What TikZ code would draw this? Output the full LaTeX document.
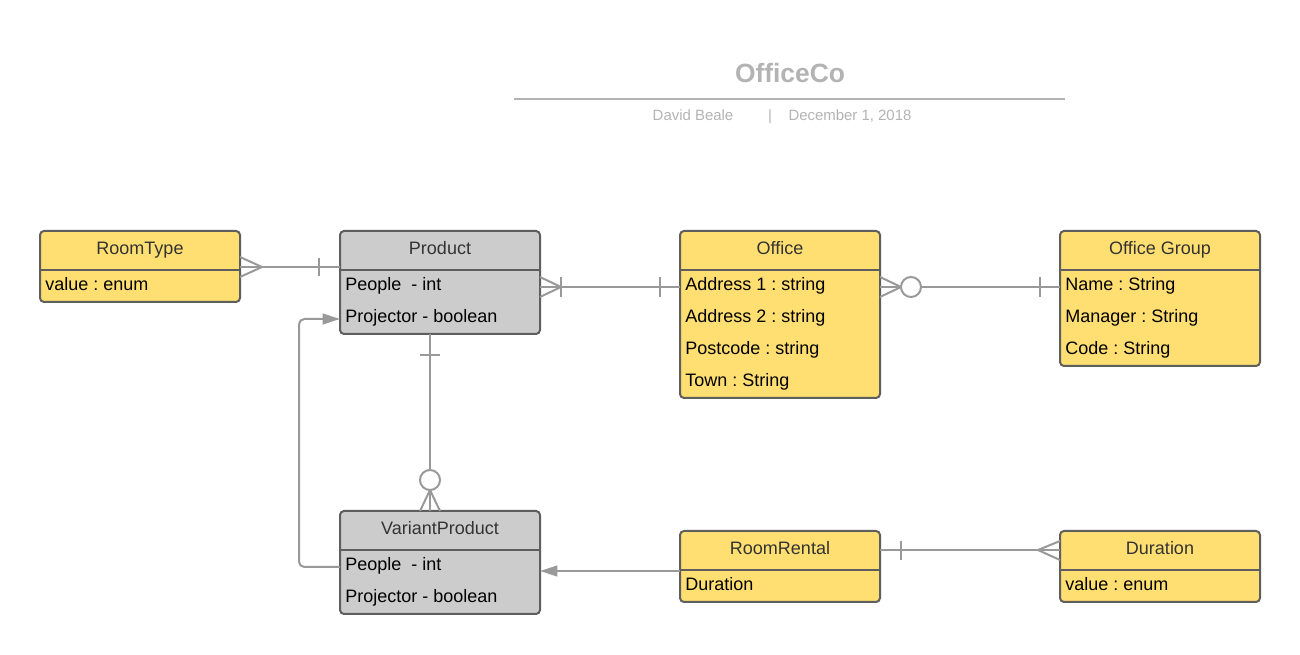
\documentclass[tikz,border=0pt]{standalone}
\usepackage{fontspec}
\setmainfont{Liberation Sans}
\usetikzlibrary{arrows.meta}
\frenchspacing

\definecolor{entyellow}{HTML}{FFDF71}
\definecolor{entgrey}{HTML}{CCCCCC}
\definecolor{boxline}{HTML}{5E5E5E}
\definecolor{linkgrey}{HTML}{999999}
\definecolor{headtext}{HTML}{333333}
\definecolor{pagetitle}{HTML}{B3B3B3}

\tikzset{
    entity/.style={draw=boxline, line width=1.5pt, rounded corners=3pt, anchor=north west, inner sep=0pt, outer sep=0pt, minimum width=150pt},
    yellowbox/.style={entity, fill=entyellow},
    greybox/.style={entity, fill=entgrey},
    divider/.style={draw=boxline, line width=1.5pt},
    heading/.style={font=\fontsize{13.5}{16}\selectfont, text=headtext, anchor=base, inner sep=0pt},
    field/.style={font=\fontsize{13.5}{16}\selectfont, anchor=base west, inner sep=0pt},
    subtitle/.style={font=\fontsize{11.2}{13}\selectfont, text=pagetitle, anchor=base, inner sep=0pt},
    link/.style={draw=linkgrey, line width=1.5pt},
    arrowlink/.style={link, -{Triangle[length=13pt,width=8pt]}, color=linkgrey}
}

\begin{document}
\begin{tikzpicture}[x=0.75pt, y=-0.75pt]
    \useasboundingbox (0,0) rectangle (1300,655);

    % header
    \node (title) at (790,73) [font=\fontsize{19.8}{22}\selectfont\bfseries, text=pagetitle] {OfficeCo};
    \draw [pagetitle, line width=1.5pt] (514,99) -- (1065,99);
    \node (author) at (693,121) [subtitle] {David Beale};
    \node (sep) at (770,121) [subtitle] {|};
    \node (date) at (850,121) [subtitle] {December 1, 2018};

    % RoomType
    \node (rt) at (40,231) [yellowbox, minimum height=53.25pt] {};
    \draw [divider] (40,270) -- (240,270);
    \node (rthead) at (140,254.5) [heading] {RoomType};
    \node (rtval) at (45,291) [field] {value : enum};

    % Product
    \node (prod) at (340,231) [greybox, minimum height=77.25pt] {};
    \draw [divider] (340,270) -- (540,270);
    \node (prodhead) at (440,254.5) [heading] {Product};
    \node (prodpeople) at (345,291) [field] {People\ \ - int};
    \node (prodproj) at (345,323) [field] {Projector - boolean};

    % Office
    \node (office) at (680,231) [yellowbox, minimum height=125.25pt] {};
    \draw [divider] (680,270) -- (880,270);
    \node (officehead) at (780,254.5) [heading] {Office};
    \node (addr1) at (685,291) [field] {Address 1 : string};
    \node (addr2) at (685,323) [field] {Address 2 : string};
    \node (postcode) at (685,355) [field] {Postcode : string};
    \node (town) at (685,387) [field] {Town : String};

    % Office Group
    \node (og) at (1060,231) [yellowbox, minimum height=101.25pt] {};
    \draw [divider] (1060,270) -- (1260,270);
    \node (oghead) at (1160,254.5) [heading] {Office Group};
    \node (ogname) at (1065,291) [field] {Name : String};
    \node (ogmanager) at (1065,323) [field] {Manager : String};
    \node (ogcode) at (1065,355) [field] {Code : String};

    % VariantProduct
    \node (vp) at (340,511) [greybox, minimum height=77.25pt] {};
    \draw [divider] (340,550) -- (540,550);
    \node (vphead) at (440,534.5) [heading] {VariantProduct};
    \node (vppeople) at (345,571) [field] {People\ \ - int};
    \node (vpproj) at (345,603) [field] {Projector - boolean};

    % RoomRental
    \node (rental) at (680,531) [yellowbox, minimum height=53.25pt] {};
    \draw [divider] (680,570) -- (880,570);
    \node (rentalhead) at (780,554.5) [heading] {RoomRental};
    \node (rentaldur) at (685,591) [field] {Duration};

    % Duration
    \node (dur) at (1060,531) [yellowbox, minimum height=53.25pt] {};
    \draw [divider] (1060,570) -- (1260,570);
    \node (durhead) at (1160,554.5) [heading] {Duration};
    \node (durval) at (1065,591) [field] {value : enum};

    % RoomType -- Product
    \draw [link] (rt.east |- 0,267) -- (prod.west |- 0,267);
    \draw [link] (rt.east |- 0,257) -- (262,267) -- (rt.east |- 0,277);
    \draw [link] (319,258) -- (319,276);

    % Product -- Office
    \draw [link] (prod.east |- 0,287) -- (office.west |- 0,287);
    \draw [link] (prod.east |- 0,277) -- (561,287) -- (prod.east |- 0,297);
    \draw [link] (561,277) -- (561,297);
    \draw [link] (660,277) -- (660,297);

    % Office -- Office Group
    \draw [link] (office.east |- 0,287) -- (og.west |- 0,287);
    \draw [link] (office.east |- 0,277) -- (901,287) -- (office.east |- 0,297);
    \draw [link, fill=white] (911,287) circle (7.5pt);
    \draw [link] (1040,277) -- (1040,297);

    % Product -- VariantProduct
    \draw [link] (prod.south -| 430,0) -- (vp.north -| 430,0);
    \draw [link] (420,355) -- (440,355);
    \draw [link] (vp.north -| 420,0) -- (430,490) -- (vp.north -| 440,0);
    \draw [link, fill=white] (430,480) circle (7.5pt);

    % VariantProduct -> Product
    \draw [arrowlink, rounded corners=4pt] (vp.west |- 0,567) -- (299,567) -- (299,319) -- (prod.west |- 0,319);

    % RoomRental -> VariantProduct
    \draw [arrowlink] (rental.west |- 0,571) -- (vp.east |- 0,571);

    % RoomRental -- Duration
    \draw [link] (rental.east |- 0,550) -- (dur.west |- 0,550);
    \draw [link] (901,541) -- (901,560);
    \draw [link] (dur.west |- 0,541) -- (1038,550) -- (dur.west |- 0,560);
\end{tikzpicture}
\end{document}
